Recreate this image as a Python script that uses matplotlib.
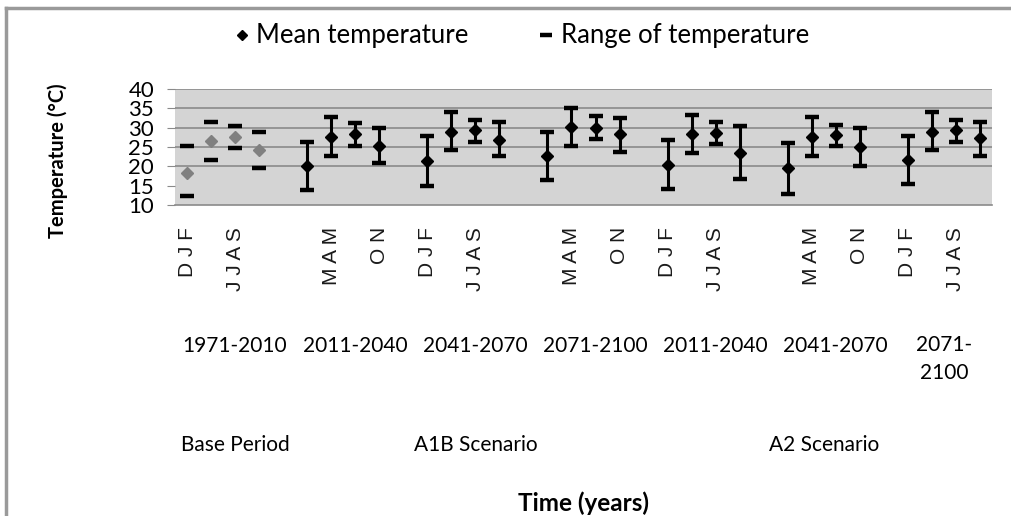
import matplotlib
matplotlib.use("Agg")
import matplotlib.pyplot as plt
import matplotlib.transforms as mtransforms
from matplotlib.lines import Line2D

# Seasonal temperature statistics (°C), four seasons per period
seasons = ["D J F", "M A M", "J J A S", "O N"]
periods = ["1971-2010", "2011-2040", "2041-2070", "2071-2100",
           "2011-2040", "2041-2070", "2071-\n2100"]
scenarios = ["Base Period", "A1B Scenario", "A2 Scenario"]
scenario_periods = [[0], [1, 2, 3], [4, 5, 6]]

mean_temp = [18.4, 26.6, 27.5, 24.2,
             20.1, 27.7, 28.4, 25.3,
             21.4, 29.0, 29.4, 26.8,
             22.7, 30.3, 30.0, 28.4,
             20.3, 28.4, 28.7, 23.5,
             19.5, 27.7, 28.1, 25.1,
             21.6, 29.0, 29.4, 27.3]
max_temp = [25.3, 31.5, 30.5, 29.0,
            26.4, 32.7, 31.1, 30.0,
            27.9, 34.1, 32.0, 31.5,
            28.8, 35.0, 33.1, 32.4,
            26.8, 33.3, 31.5, 30.5,
            26.0, 32.7, 30.7, 30.0,
            27.8, 34.1, 32.0, 31.5]
min_temp = [12.2, 21.6, 24.7, 19.5,
            13.9, 22.7, 25.3, 20.8,
            14.9, 24.2, 26.4, 22.7,
            16.5, 25.3, 27.1, 23.8,
            14.1, 23.4, 25.8, 16.6,
            12.8, 22.7, 25.3, 20.1,
            15.4, 24.2, 26.4, 22.7]

y_ticks = [10, 15, 20, 25, 30, 35, 40]
grid_levels = [20, 25, 30, 35, 40]

W, H = 1011, 516
fig = plt.figure(figsize=(W / 100, H / 100), dpi=100)
fig.patch.set_facecolor("white")

# chart-area frame (top and left edges)
fig.add_artist(Line2D([6 / W, 6 / W], [0, 1 - 8 / H], transform=fig.transFigure,
                      color="#9a9a9a", lw=2.5))
fig.add_artist(Line2D([6 / W, 1], [1 - 8 / H, 1 - 8 / H], transform=fig.transFigure,
                      color="#9a9a9a", lw=2.5))

ax = fig.add_axes([175 / W, 1 - 205 / H, (992 - 175) / W, (205 - 89) / H])
ax.set_facecolor("#d4d4d4")

n_season = len(seasons)
slot = n_season + 1  # one empty slot between periods
n_slots = len(periods) * slot - 1

xs, base_flags = [], []
for g in range(len(periods)):
    for s in range(n_season):
        xs.append(g * slot + s)
        base_flags.append(g == 0)

for lvl in grid_levels:
    ax.axhline(lvl, color="#8a8a8a", lw=1.2, zorder=1)

for x, lo, hi, mu, base in zip(xs, min_temp, max_temp, mean_temp, base_flags):
    if not base:
        ax.vlines(x, lo, hi, color="black", lw=2.2, zorder=3)
    ax.plot([x, x], [lo, hi], ls="none", marker="_", ms=10, mew=3.2,
            color="black", zorder=4)
    ax.plot(x, mu, ls="none", marker="D", ms=6.5,
            color="#808080" if base else "black", zorder=5)

ax.set_xlim(-0.5, n_slots - 0.5)
ax.set_ylim(10, 40)
ax.set_yticks(y_ticks)
ax.set_yticklabels([str(v) for v in y_ticks], fontsize=16, family="Lato")
ax.tick_params(axis="y", length=6, color="#8a8a8a", pad=9)

tick_pos = list(range(n_slots))
tick_lab = []
for i in tick_pos:
    s = i % slot
    tick_lab.append(seasons[s] if (s < n_season and i % 2 == 0) else "")
ax.set_xticks(tick_pos)
ax.set_xticklabels(tick_lab, rotation=90, fontsize=15, family="Liberation Sans",
                   color="#1a1a1a", va="top")
ax.tick_params(axis="x", length=0, pad=16)

for side in ["left", "right", "top"]:
    ax.spines[side].set_visible(False)
ax.spines["bottom"].set_color("#8a8a8a")
ax.spines["bottom"].set_linewidth(1.2)

trans = mtransforms.blended_transform_factory(ax.transData, fig.transFigure)

# period labels centred under each group of seasons
for g, name in enumerate(periods):
    start = g * slot
    end = min(start + slot, n_slots) - 1
    cx = (start + end) / 2
    if "\n" in name:
        ax.text(cx, 1 - 335 / H, name, transform=trans, ha="center", va="top",
                fontsize=15, family="Lato", linespacing=1.5)
    else:
        ax.text(cx, 1 - 346 / H, name, transform=trans, ha="center", va="center",
                fontsize=15, family="Lato")

# scenario labels spanning their periods
for name, grp in zip(scenarios, scenario_periods):
    start = grp[0] * slot
    end = min((grp[-1] + 1) * slot, n_slots) - 1
    ax.text((start + end) / 2, 1 - 445 / H, name, transform=trans,
            ha="center", va="center", fontsize=15, family="Lato")

fig.text((175 + 992) / 2 / W, 1 - 503 / H, "Time (years)", ha="center",
         va="center", fontsize=17.5, family="Lato", fontweight="bold")
fig.text(58 / W, 1 - 161 / H, "Temperature (°C)", ha="center", va="center",
         rotation=90, fontsize=14.5, family="Lato", fontweight="bold")

# legend
handles = [
    Line2D([], [], ls="none", marker="D", ms=5, color="black"),
    Line2D([], [], ls="none", marker="_", ms=9, mew=3.2, color="black"),
]
fig.legend(handles, ["Mean temperature", "Range of temperature"],
           loc="center", bbox_to_anchor=(522 / W, 1 - 36 / H), ncol=2,
           frameon=False, prop={"family": "Lato", "size": 18.5},
           handlelength=0.5, handletextpad=0.3, columnspacing=2.8)

fig.savefig("out.png", dpi=100)
